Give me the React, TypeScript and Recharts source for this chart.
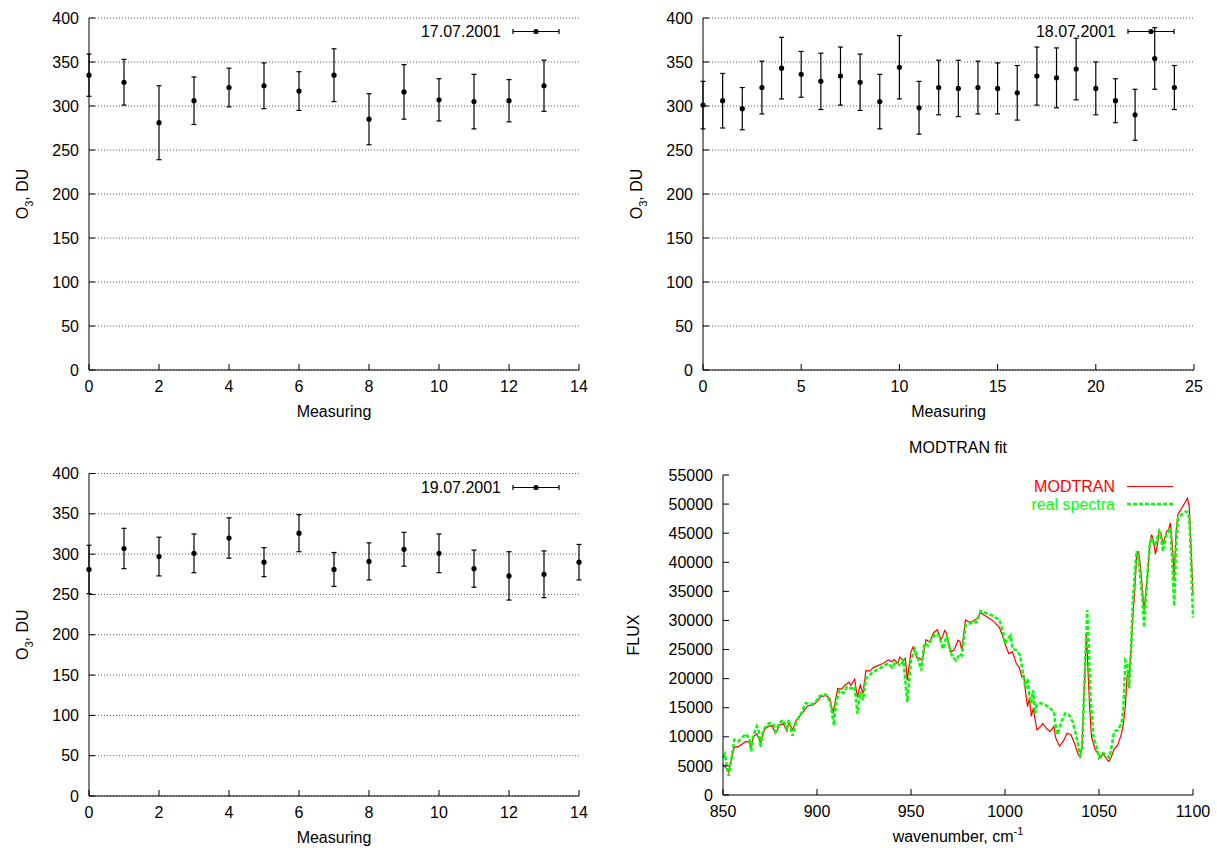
import React from 'react';
import {
  ScatterChart,
  Scatter,
  ErrorBar,
  LineChart,
  Line,
  XAxis,
  YAxis,
  CartesianGrid,
  Legend,
} from 'recharts';

const FONT = '"Liberation Sans", Arial, Helvetica, sans-serif';

// ozone column, DU, one value per measuring
const o3Day17 = [335, 327, 281, 306, 321, 323, 317, 335, 285, 316, 307, 305, 306, 323];
const errDay17 = [24, 26, 42, 27, 22, 26, 22, 30, 29, 31, 24, 31, 24, 29];

const o3Day18 = [301, 306, 297, 321, 343, 336, 328, 334, 327, 305, 344, 298, 321, 320, 321, 320, 315, 334, 332, 342, 320, 306, 290, 354, 321];
const errDay18 = [27, 31, 24, 30, 35, 26, 32, 33, 32, 31, 36, 30, 31, 32, 30, 29, 31, 33, 34, 35, 30, 25, 29, 35, 25];

const o3Day19 = [281, 307, 297, 301, 320, 290, 326, 281, 291, 306, 301, 282, 273, 275, 290];
const errDay19 = [30, 25, 24, 24, 25, 18, 23, 21, 23, 21, 24, 23, 30, 29, 22];

const o3Ticks = [0, 50, 100, 150, 200, 250, 300, 350, 400];
const measTicks14 = [0, 2, 4, 6, 8, 10, 12, 14];
const measTicks25 = [0, 5, 10, 15, 20, 25];

// MODTRAN fit spectra
const wnTicks = [850, 900, 950, 1000, 1050, 1100];
const fluxTicks = [0, 5000, 10000, 15000, 20000, 25000, 30000, 35000, 40000, 45000, 50000, 55000];

const modtranWn = [
  850, 851, 853, 855, 856, 858, 860, 862, 864, 865, 866, 868, 870, 872, 874, 876, 878, 880, 882, 884,
  885, 887, 889, 892, 895, 898, 900, 902, 905, 907, 908.5, 911, 913, 915, 917, 918, 920, 921.5, 923, 924.5,
  926, 928, 930, 932, 935, 938, 940, 941, 943, 944, 946, 947, 948, 950, 951, 953, 955, 956, 958, 960,
  962, 964, 966, 968, 969, 971, 973, 975, 976, 977, 979, 981, 983, 985, 987, 989, 991, 993, 995, 997,
  999, 1000, 1002, 1004, 1006, 1007.5, 1009, 1010, 1011, 1012, 1013, 1014, 1015, 1017, 1019, 1020, 1022, 1024, 1026, 1027,
  1029, 1031, 1033, 1035, 1037, 1039, 1040, 1041, 1042, 1043.3, 1044, 1045, 1046, 1048, 1050, 1051, 1052, 1053, 1055, 1056,
  1058, 1060, 1062, 1063, 1064, 1065, 1066, 1067, 1068, 1069, 1070, 1071, 1072, 1073, 1074, 1075, 1076, 1077, 1078, 1079,
  1080, 1081, 1082, 1083, 1084, 1085, 1086, 1087, 1088, 1089, 1090, 1091, 1092, 1094, 1096, 1097, 1098, 1099, 1100,
];
const modtranFlux = [
  5200, 4900, 3900, 7000, 8200, 8300, 8700, 9200, 9100, 8000, 10000, 10500, 9000, 11200, 11800, 11900, 10600, 12000, 12300, 11000,
  12400, 11200, 12900, 14000, 15300, 15500, 16000, 16900, 17100, 16500, 14000, 18300, 18200, 18900, 19400, 18800, 19900, 16800, 18900, 17500,
  21400, 21300, 21900, 22200, 22600, 23200, 22900, 23300, 22600, 23700, 23100, 23500, 19700, 24600, 25400, 23700, 23400, 23100, 26700, 26300,
  27900, 28400, 26600, 28300, 27700, 24600, 24900, 26600, 26400, 24900, 30100, 29700, 29900, 30300, 31400, 30900, 30500, 30100, 29500, 28800,
  27100, 26000, 24300, 24600, 22600, 22000, 20300, 20600, 17500, 15200, 16600, 13500, 14900, 11200, 11800, 12300, 11500, 10900, 11800, 9800,
  8400, 9200, 10600, 10400, 8900, 6900, 6500, 8600, 16900, 27800, 22600, 15200, 10000, 7800, 6900, 6400, 7100, 6700, 5800, 6100,
  7800, 8600, 10600, 12300, 15200, 20600, 20300, 24900, 30500, 35100, 40800, 41900, 39600, 35700, 31700, 35100, 38500, 43100, 44800, 43600,
  41400, 42800, 45300, 45000, 43100, 44200, 45300, 45600, 46800, 43100, 37400, 45300, 48200, 49300, 50400, 51000, 49600, 42500, 34500,
];

const realWn = [
  850, 851, 853, 855, 856, 858, 860, 862, 864, 865, 866, 868, 869, 870, 871, 873, 875, 877, 878, 880,
  882, 884, 885, 887, 889, 892, 894, 897, 899, 901, 903, 905, 907, 909, 910, 912, 914, 916, 918, 920,
  921.5, 923, 924.5, 926, 928, 930, 933, 936, 938, 940, 942, 944, 946, 948, 950, 952, 954, 955.5, 957, 959,
  961, 963, 965, 967, 969, 970, 972, 974, 976, 977, 979, 981, 983, 985, 987, 989, 991, 993, 995, 997,
  999, 1000, 1002, 1003, 1004, 1006, 1008, 1009, 1010, 1011, 1012, 1013, 1014, 1015, 1016, 1017, 1019, 1021, 1023, 1025,
  1026, 1027, 1028, 1030, 1032, 1034, 1036, 1038, 1040, 1041, 1042, 1043, 1043.7, 1044.5, 1045.5, 1047, 1049, 1050, 1052, 1054,
  1055.5, 1057, 1058, 1060, 1062, 1063, 1064, 1065, 1066, 1067, 1068, 1069, 1070, 1071, 1072, 1073, 1074, 1075, 1076, 1077,
  1078, 1079, 1080, 1081, 1082, 1083, 1084, 1085, 1086, 1087, 1088, 1089, 1090, 1091, 1092, 1094, 1096, 1097, 1098, 1099, 1100,
];
const realFlux = [
  6400, 7000, 3300, 7200, 9500, 9200, 9800, 10500, 9800, 7500, 10000, 11800, 11200, 8200, 10600, 12000, 12400, 12000, 10900, 12400,
  12900, 11500, 12900, 10200, 12600, 14300, 15800, 15600, 15800, 16900, 17300, 17200, 16000, 12000, 15800, 18000, 17500, 18600, 18300, 18600,
  14000, 17700, 16300, 20000, 20600, 21200, 21700, 22300, 22600, 21900, 22900, 22300, 23100, 16000, 23100, 25100, 23100, 21400, 26000, 25700,
  26800, 27700, 27400, 25100, 27400, 26000, 23700, 23100, 24300, 24000, 29100, 29400, 29800, 29700, 31600, 31400, 31100, 30900, 30500, 30100,
  28000, 26000, 27100, 27400, 25100, 24900, 24000, 22000, 20000, 18300, 20000, 16900, 15800, 18000, 14000, 15500, 15800, 15500, 15200, 14600,
  14300, 11800, 10400, 12600, 14000, 13800, 12600, 10000, 6900, 7800, 16900, 25400, 31800, 26000, 16900, 10000, 8000, 6400, 7200, 6900,
  6400, 8900, 10900, 11200, 12300, 15200, 23100, 22600, 18300, 24900, 33400, 37900, 41900, 40800, 37400, 34000, 28800, 34000, 39000, 43100,
  44200, 43300, 43100, 44200, 45300, 44200, 41900, 43600, 45000, 45300, 45900, 39600, 32500, 42500, 47600, 48200, 48700, 48700, 47600, 39600, 30500,
];

const toPoints = (vals: number[], errs: number[]) => vals.map((y, i) => ({ x: i, y, err: errs[i] }));

const spectra = (() => {
  const rows = new Map<number, any>();
  modtranWn.forEach((w, i) => rows.set(w, { wn: w, modtran: modtranFlux[i] }));
  realWn.forEach((w, i) => rows.set(w, { ...(rows.get(w) || { wn: w }), real: realFlux[i] }));
  return Array.from(rows.values()).sort((a, b) => a.wn - b.wn);
})();

const tickStyle = { fill: '#000', fontSize: 16 };
const axisStroke = { stroke: '#000', strokeWidth: 1 };

// rotated y title, gnuplot places it a fixed distance left of the frame
const yTitle = (kind: 'o3' | 'flux', gap: number) => (props: any) => {
  const vb = props.viewBox;
  const cx = vb.x + vb.width - gap;
  const cy = vb.y + vb.height / 2;
  return (
    <text transform={`translate(${cx},${cy}) rotate(-90)`} x={0} y={6} textAnchor="middle" fontSize={16} fill="#000">
      {kind === 'o3' ? (
        <>
          <tspan>O</tspan>
          <tspan dy={5} fontSize={11}>3</tspan>
          <tspan dy={-5}>, DU</tspan>
        </>
      ) : (
        'FLUX'
      )}
    </text>
  );
};

// x title below the frame; for the spectra panel the plot title goes above it too
const xTitle = (kind: 'meas' | 'wn', plotHeight = 0) => (props: any) => {
  const vb = props.viewBox;
  const cx = vb.x + vb.width / 2;
  if (kind === 'meas') {
    return (
      <text x={cx} y={vb.y + 47} textAnchor="middle" fontSize={16} fill="#000">Measuring</text>
    );
  }
  return (
    <g>
      <text x={cx} y={vb.y + 47} textAnchor="middle" fontSize={16} fill="#000">
        <tspan>wavenumber, cm</tspan>
        <tspan dy={-7} fontSize={11}>-1</tspan>
      </text>
      <text x={cx} y={vb.y - plotHeight - 22} textAnchor="middle" fontSize={16} fill="#000">MODTRAN fit</text>
    </g>
  );
};

const DateKey = ({ label }: { label: string }) => (
  <svg width={230} height={30} style={{ display: 'block', fontFamily: FONT }}>
    <text x={152} y={19} textAnchor="end" fontSize={16} fill="#000">{label}</text>
    <line x1={164} y1={13.5} x2={210} y2={13.5} stroke="#000" strokeWidth={1.2} />
    <line x1={164} y1={11} x2={164} y2={16} stroke="#000" strokeWidth={1.2} />
    <line x1={210} y1={11} x2={210} y2={16} stroke="#000" strokeWidth={1.2} />
    <circle cx={187} cy={13.5} r={2.6} fill="#000" />
  </svg>
);

const SpectraKey = () => (
  <svg width={230} height={44} style={{ display: 'block', fontFamily: FONT }}>
    <text x={152} y={17} textAnchor="end" fontSize={16} fill="#ff0000">MODTRAN</text>
    <line x1={164} y1={11.5} x2={210} y2={11.5} stroke="#ff0000" strokeWidth={1.2} />
    <text x={152} y={35} textAnchor="end" fontSize={16} fill="#00ff00">real spectra</text>
    <line x1={164} y1={29} x2={210} y2={29} stroke="#00ff00" strokeWidth={2.5} strokeDasharray="4 2" />
  </svg>
);

const Dot = (p: any) => <circle cx={p.cx} cy={p.cy} r={2.6} fill="#000" />;

interface OzoneProps {
  vals: number[];
  errs: number[];
  date: string;
  left: number;
  top: number;
  width: number;
  height: number;
  plotTop: number;
  right: number;
  bottomAxis: number;
  xMax: number;
  xTicks: number[];
}

function OzonePanel({ vals, errs, date, left, top, width, height, plotTop, right, bottomAxis, xMax, xTicks }: OzoneProps) {
  const plotRight = width - right;
  return (
    <div style={{ position: 'absolute', left, top }}>
      <ScatterChart width={width} height={height} margin={{ top: plotTop, right, left: 0, bottom: 0 }}>
        <CartesianGrid vertical={false} stroke="#333" strokeWidth={0.8} strokeDasharray="1 2" />
        <XAxis
          type="number"
          dataKey="x"
          domain={[0, xMax]}
          ticks={xTicks}
          interval={0}
          height={bottomAxis}
          tick={tickStyle}
          tickSize={-6}
          tickMargin={17}
          axisLine={axisStroke}
          tickLine={axisStroke}
          label={{ content: xTitle('meas') }}
        />
        <XAxis xAxisId="top" orientation="top" type="number" domain={[0, xMax]} ticks={xTicks} interval={0} height={0} tick={false} tickSize={-6} axisLine={axisStroke} tickLine={axisStroke} />
        <YAxis
          type="number"
          dataKey="y"
          domain={[0, 400]}
          ticks={o3Ticks}
          interval={0}
          width={89}
          tick={tickStyle}
          tickSize={-6}
          tickMargin={16}
          axisLine={axisStroke}
          tickLine={axisStroke}
          label={{ content: yTitle('o3', 67) }}
        />
        <YAxis yAxisId="right" orientation="right" type="number" domain={[0, 400]} ticks={o3Ticks} interval={0} width={0} tick={false} tickSize={-6} axisLine={axisStroke} tickLine={axisStroke} />
        <Legend
          layout="vertical"
          align="center"
          verticalAlign="middle"
          content={() => <DateKey label={date} />}
          wrapperStyle={{ left: plotRight - 230, top: plotTop, width: 230, height: 30 }}
        />
        <Scatter data={toPoints(vals, errs)} shape={Dot} isAnimationActive={false}>
          <ErrorBar dataKey="err" direction="y" width={2.5} stroke="#000" strokeWidth={1.2} isAnimationActive={false} />
        </Scatter>
      </ScatterChart>
    </div>
  );
}

function SpectraPanel() {
  const width = 603;
  const height = 418;
  const plotTop = 45;
  const plotHeight = 320;
  const right = 24;
  return (
    <div style={{ position: 'absolute', left: 614, top: 430 }}>
      <LineChart width={width} height={height} data={spectra} margin={{ top: plotTop, right, left: 0, bottom: 0 }}>
        <XAxis
          type="number"
          dataKey="wn"
          domain={[850, 1100]}
          ticks={wnTicks}
          interval={0}
          height={height - plotTop - plotHeight}
          tick={tickStyle}
          tickSize={-6}
          tickMargin={17}
          axisLine={axisStroke}
          tickLine={axisStroke}
          label={{ content: xTitle('wn', plotHeight) }}
        />
        <XAxis xAxisId="top" orientation="top" type="number" domain={[850, 1100]} ticks={wnTicks} interval={0} height={0} tick={false} tickSize={-6} axisLine={axisStroke} tickLine={axisStroke} />
        <YAxis
          type="number"
          domain={[0, 55000]}
          ticks={fluxTicks}
          interval={0}
          width={109}
          tick={tickStyle}
          tickSize={-6}
          tickMargin={16}
          axisLine={axisStroke}
          tickLine={axisStroke}
          label={{ content: yTitle('flux', 90) }}
        />
        <YAxis yAxisId="right" orientation="right" type="number" domain={[0, 55000]} ticks={fluxTicks} interval={0} width={0} tick={false} tickSize={-6} axisLine={axisStroke} tickLine={axisStroke} />
        <Legend
          layout="vertical"
          align="center"
          verticalAlign="middle"
          content={() => <SpectraKey />}
          wrapperStyle={{ left: width - right - 230, top: plotTop, width: 230, height: 44 }}
        />
        <Line dataKey="modtran" stroke="#ff0000" strokeWidth={1.2} dot={false} connectNulls isAnimationActive={false} />
        <Line dataKey="real" stroke="#00ff00" strokeWidth={2.5} strokeDasharray="4 2" dot={false} connectNulls isAnimationActive={false} />
      </LineChart>
    </div>
  );
}

export default function App() {
  return (
    <div style={{ position: 'absolute', left: 0, top: 0, width: 1217, height: 848, background: '#fff', fontFamily: FONT }}>
      <OzonePanel vals={o3Day17} errs={errDay17} date="17.07.2001" left={0} top={0} width={608} height={430} plotTop={18} right={29} bottomAxis={60} xMax={14} xTicks={measTicks14} />
      <OzonePanel vals={o3Day18} errs={errDay18} date="18.07.2001" left={614} top={0} width={603} height={430} plotTop={18} right={23} bottomAxis={60} xMax={25} xTicks={measTicks25} />
      <OzonePanel vals={o3Day19} errs={errDay19} date="19.07.2001" left={0} top={449} width={608} height={399} plotTop={24.5} right={29} bottomAxis={52} xMax={14} xTicks={measTicks14} />
      <SpectraPanel />
    </div>
  );
}
